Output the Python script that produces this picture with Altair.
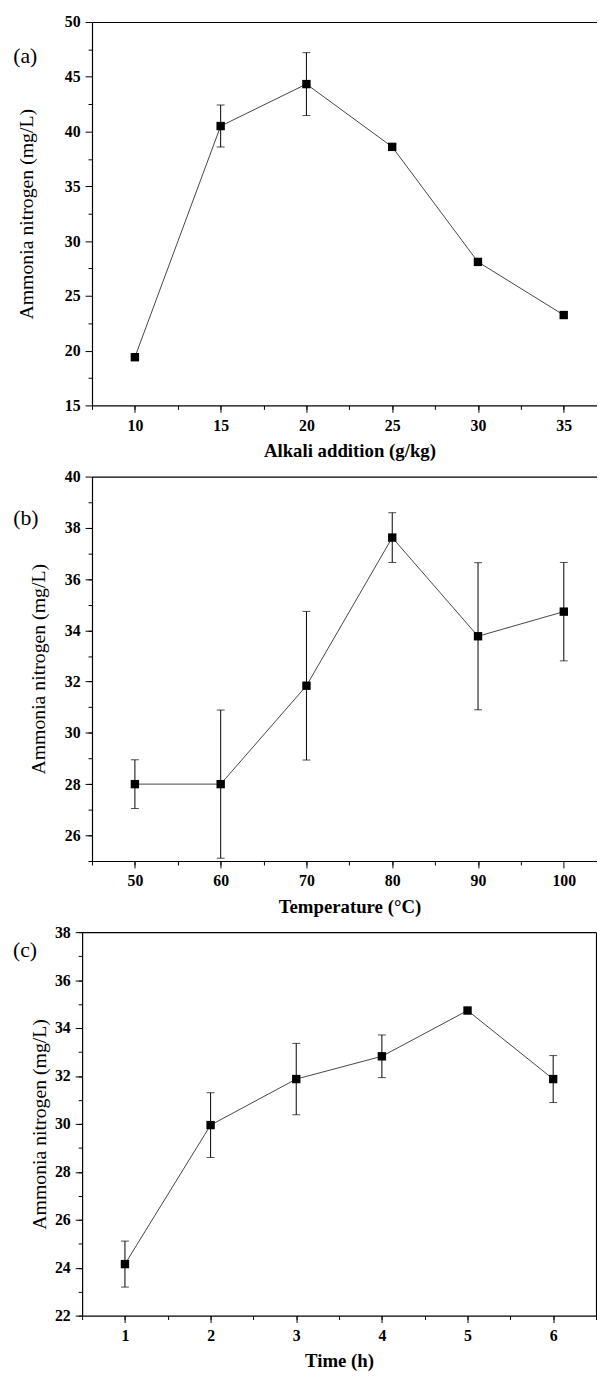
import altair as alt
import pandas as pd

# ---------------- data ----------------
alkali = [10, 15, 20, 25, 30, 35]
alkali_nh = [19.4, 40.5, 44.33, 38.6, 28.1, 23.25]
alkali_err = [0, 1.92, 2.87, 0, 0, 0]

temp = [50, 60, 70, 80, 90, 100]
temp_nh = [28.0, 28.0, 31.84, 37.62, 33.77, 34.73]
temp_err = [0.95, 2.89, 2.9, 0.97, 2.87, 1.92]

time_h = [1, 2, 3, 4, 5, 6]
time_nh = [24.15, 29.95, 31.87, 32.82, 34.73, 31.87]
time_err = [0.96, 1.35, 1.49, 0.89, 0, 0.98]

ytitle = "Ammonia nitrogen (mg/L)"
FONT = "Liberation Serif"


def frange(a, b, step):
    out = []
    v = a
    while v <= b + 1e-9:
        out.append(round(v, 4))
        v += step
    return out


def panel(xs, ys, errs, xdomain, xvals, xminor, ydomain, yvals, yminor,
          width, height, xtitle, xtitle_x, label, label_x, label_y,
          ytitle_x, right_frame):
    df = pd.DataFrame({"x": xs, "y": ys, "err": errs})
    df["lo"] = df["y"] - df["err"]
    df["hi"] = df["y"] + df["err"]
    dfe = df[df["err"] > 0]

    xsc = alt.Scale(domain=xdomain, nice=False, zero=False)
    ysc = alt.Scale(domain=ydomain, nice=False, zero=False)

    xaxis_args = dict(orient="bottom", values=xvals, title=xtitle, tickSize=7,
                      labelPadding=5, titleY=46, titleBaseline="middle",
                      titleFontWeight="bold", titleFontSize=19, format="d",
                      minExtent=0)
    if xtitle_x is not None:
        xaxis_args["titleX"] = xtitle_x

    line = alt.Chart(df).mark_line(color="#444444", strokeWidth=1).encode(
        x=alt.X("x:Q", scale=xsc, axis=alt.Axis(**xaxis_args)),
        y=alt.Y("y:Q", scale=ysc, axis=alt.Axis(
            orient="left", values=yvals, title=ytitle, tickSize=7,
            labelPadding=5, titleX=ytitle_x, titleBaseline="middle",
            titleFontWeight="normal", titleFontSize=20, format="d",
            minExtent=0)),
    )
    minor = alt.Chart(df).mark_point(opacity=0).encode(
        x=alt.X("x:Q", scale=xsc, axis=alt.Axis(
            orient="bottom", values=xminor, labels=False, domain=False,
            tickSize=4, title=None, minExtent=0)),
        y=alt.Y("y:Q", scale=ysc, axis=alt.Axis(
            orient="left", values=yminor, labels=False, domain=False,
            tickSize=4, title=None, minExtent=0)),
    )
    frame_y = alt.Axis(orient="right", labels=False, ticks=False, title=None,
                       minExtent=0) if right_frame else None
    frame = alt.Chart(df).mark_point(opacity=0).encode(
        x=alt.X("x:Q", scale=xsc, axis=alt.Axis(
            orient="top", labels=False, ticks=False, title=None,
            minExtent=0)),
        y=alt.Y("y:Q", scale=ysc, axis=frame_y),
    )
    rule = alt.Chart(dfe).mark_rule(color="black", strokeWidth=1).encode(
        x=alt.X("x:Q", scale=xsc, axis=None),
        y=alt.Y("lo:Q", scale=ysc, axis=None),
        y2="hi:Q",
    )
    cap_lo = alt.Chart(dfe).mark_tick(color="black", orient="horizontal",
                                      size=8, thickness=1).encode(
        x=alt.X("x:Q", scale=xsc, axis=None),
        y=alt.Y("lo:Q", scale=ysc, axis=None),
    )
    cap_hi = alt.Chart(dfe).mark_tick(color="black", orient="horizontal",
                                      size=8, thickness=1).encode(
        x=alt.X("x:Q", scale=xsc, axis=None),
        y=alt.Y("hi:Q", scale=ysc, axis=None),
    )
    pts = alt.Chart(df).mark_square(size=72, color="black", opacity=1).encode(
        x=alt.X("x:Q", scale=xsc, axis=None),
        y=alt.Y("y:Q", scale=ysc, axis=None),
    )
    lab = alt.Chart(pd.DataFrame({"t": [label]})).mark_text(
        align="left", baseline="middle", font=FONT, fontSize=22,
        color="black").encode(
        text="t:N", x=alt.value(label_x), y=alt.value(label_y))

    chart = alt.layer(line, minor, frame, rule, cap_lo, cap_hi, pts, lab) \
        .resolve_axis(x="independent", y="independent") \
        .properties(width=width, height=height)

    spacer = alt.Chart(pd.DataFrame({"v": [0]})).mark_text(text=" ").properties(
        width=1, height=1)
    return alt.hconcat(spacer, chart, spacing=4)


row_a = panel(alkali, alkali_nh, alkali_err,
              [7.5, 36.94], [10, 15, 20, 25, 30, 35], frange(7.5, 35, 2.5),
              [15, 50], frange(15, 50, 5), frange(17.5, 47.5, 5),
              511, 388, "Alkali addition (g/kg)", 260.5,
              "(a)", -79.7, 35, -66, False)

row_b = panel(temp, temp_nh, temp_err,
              [45, 103.87], [50, 60, 70, 80, 90, 100], frange(45, 95, 5),
              [25, 40], frange(26, 40, 2), frange(25, 39, 1),
              511, 389, "Temperature (°C)", 260.5,
              "(b)", -79.7, 42, -54.5, False)

row_c = panel(time_h, time_nh, time_err,
              [0.5, 6.5], [1, 2, 3, 4, 5, 6], frange(0.5, 6.5, 0.5),
              [22, 38], frange(22, 38, 2), frange(22, 38, 1),
              520, 388, "Time (h)", None,
              "(c)", -70, 18, -43.5, True)

chart = alt.vconcat(row_a, row_b, row_c, spacing=8).properties(
    padding={"top": -2, "left": 0, "right": 0, "bottom": 0},
    background="white"
).configure_view(
    strokeOpacity=0
).configure_axis(
    grid=False,
    domainColor="black",
    domainWidth=1.2,
    tickColor="black",
    tickWidth=1,
    labelColor="black",
    titleColor="black",
    labelFont=FONT,
    titleFont=FONT,
    labelFontSize=16,
    labelFontWeight="bold",
)

chart.save("out.html", embed_options={"renderer": "svg", "actions": False})
